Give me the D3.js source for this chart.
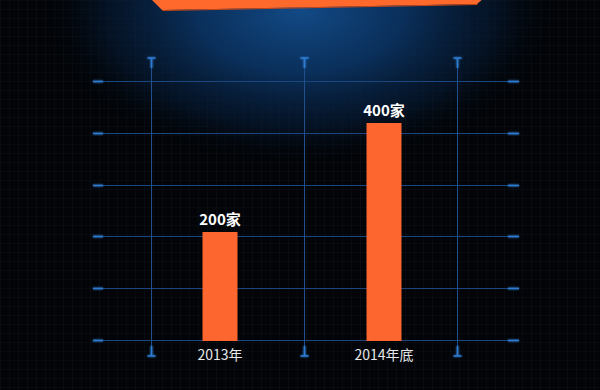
<!DOCTYPE html>
<html>
<head>
<meta charset="utf-8">
<script src="https://cdn.jsdelivr.net/npm/d3@7"></script>
<style>
  html, body { margin: 0; padding: 0; background: #020407; }
  svg { display: block; }
</style>
</head>
<body>
<svg id="chart" width="600" height="390"></svg>
<script>
// Store counts by period
const categories = ["2013年", "2014年底"];
const values = [200, 400];
const valueUnit = "家";
// Decorative grid: horizontal levels and vertical guide columns
const gridLevels = [0, 1, 2, 3, 4, 5];
const guideColumns = [0, 1, 2];

const W = 600, H = 390;
const svg = d3.select("#chart");
const defs = svg.append("defs");

// Background glow under the title banner
const glow = defs.append("radialGradient")
  .attr("id", "glow")
  .attr("gradientUnits", "userSpaceOnUse")
  .attr("cx", 300).attr("cy", 10).attr("r", 260)
  .attr("gradientTransform", "translate(300,10) scale(1,0.6) translate(-300,-10)");
glow.append("stop").attr("offset", "0%").attr("stop-color", "#124a86").attr("stop-opacity", 1);
glow.append("stop").attr("offset", "40%").attr("stop-color", "#0b3464").attr("stop-opacity", 0.9);
glow.append("stop").attr("offset", "75%").attr("stop-color", "#061b36").attr("stop-opacity", 0.6);
glow.append("stop").attr("offset", "100%").attr("stop-color", "#020407").attr("stop-opacity", 0);

// Fine texture grid
const pat = defs.append("pattern")
  .attr("id", "fine")
  .attr("width", 9).attr("height", 9)
  .attr("patternUnits", "userSpaceOnUse");
pat.append("path")
  .attr("d", "M9 0 L0 0 0 9")
  .attr("fill", "none")
  .attr("stroke", "#1a2a40")
  .attr("stroke-opacity", 0.35)
  .attr("stroke-width", 1);

// Soft glow for the bright guide marks (user-space region so flat lines keep rendering)
const soft = defs.append("filter").attr("id", "soft")
  .attr("filterUnits", "userSpaceOnUse")
  .attr("x", 0).attr("y", 0).attr("width", W).attr("height", H);
soft.append("feGaussianBlur").attr("stdDeviation", 1.2).attr("result", "b");
const merge = soft.append("feMerge");
merge.append("feMergeNode").attr("in", "b");
merge.append("feMergeNode").attr("in", "SourceGraphic");

svg.append("rect").attr("width", W).attr("height", H).attr("fill", "#020407");
svg.append("rect").attr("width", W).attr("height", H).attr("fill", "url(#fine)");
svg.append("rect").attr("width", W).attr("height", H).attr("fill", "url(#glow)");

// Title banner edge at the top
svg.append("path")
  .attr("d", "M150,-2 L162,10 L477,4 L484,-2 Z")
  .attr("fill", "#ff6a2c");
svg.append("path")
  .attr("d", "M162,10 L477,4 L478,5 L163,11 Z")
  .attr("fill", "#c2461a");

// Scales
const yGrid = d3.scaleLinear().domain([0, 5]).range([340, 81]);
const xGuide = d3.scaleLinear().domain([0, 2]).range([151, 457]);
const x = d3.scalePoint().domain(categories).range([220, 384]);
const y = d3.scaleLinear().domain([0, 400]).range([341, 123]);
const barW = 35;

const gridColor = "#1a4780";
const tickColor = "#2f7cd2";

// Horizontal grid lines with bright end ticks
const hg = svg.append("g");
hg.selectAll("line.h").data(gridLevels).join("line")
  .attr("class", "h")
  .attr("x1", 93).attr("x2", 519)
  .attr("y1", d => Math.round(yGrid(d)) + 0.5)
  .attr("y2", d => Math.round(yGrid(d)) + 0.5)
  .attr("stroke", gridColor).attr("stroke-width", 1);
const ends = hg.append("g").attr("filter", "url(#soft)");
ends.selectAll("line.tl").data(gridLevels).join("line")
  .attr("class", "tl")
  .attr("x1", 93).attr("x2", 103)
  .attr("y1", d => Math.round(yGrid(d)) + 0.5)
  .attr("y2", d => Math.round(yGrid(d)) + 0.5)
  .attr("stroke", tickColor).attr("stroke-width", 1.6);
ends.selectAll("line.tr").data(gridLevels).join("line")
  .attr("class", "tr")
  .attr("x1", 508).attr("x2", 519)
  .attr("y1", d => Math.round(yGrid(d)) + 0.5)
  .attr("y2", d => Math.round(yGrid(d)) + 0.5)
  .attr("stroke", tickColor).attr("stroke-width", 1.6);

// Vertical guide lines with T-shaped caps
const vTop = 58, vBot = 356;
const vg = svg.append("g");
vg.selectAll("line.v").data(guideColumns).join("line")
  .attr("class", "v")
  .attr("x1", d => Math.round(xGuide(d)) + 0.5)
  .attr("x2", d => Math.round(xGuide(d)) + 0.5)
  .attr("y1", vTop).attr("y2", vBot)
  .attr("stroke", "#1f4f8c").attr("stroke-width", 1);
vg.append("g").attr("filter", "url(#soft)")
  .selectAll("path.cap").data(guideColumns).join("path")
  .attr("class", "cap")
  .attr("d", d => {
    const cx = Math.round(xGuide(d)) + 0.5;
    return `M${cx - 4},${vTop} H${cx + 4} M${cx},${vTop} V${vTop + 10}` +
           `M${cx - 4},${vBot} H${cx + 4} M${cx},${vBot} V${vBot - 10}`;
  })
  .attr("fill", "none")
  .attr("stroke", tickColor).attr("stroke-width", 1.6);

// Bars
svg.append("g").selectAll("rect").data(values).join("rect")
  .attr("x", (d, i) => x(categories[i]) - barW / 2)
  .attr("y", d => y(d))
  .attr("width", barW)
  .attr("height", d => y(0) - y(d))
  .attr("fill", "#fe6630");

// Value labels
svg.append("g").selectAll("text").data(values).join("text")
  .attr("x", (d, i) => x(categories[i]))
  .attr("y", d => y(d) - 7)
  .attr("text-anchor", "middle")
  .attr("font-family", "'Noto Sans CJK SC', 'Noto Sans', sans-serif")
  .attr("font-weight", "bold")
  .attr("font-size", 15)
  .attr("fill", "#ffffff")
  .text(d => d + valueUnit);

// Category labels
svg.append("g").selectAll("text").data(categories).join("text")
  .attr("x", d => x(d))
  .attr("y", 360)
  .attr("text-anchor", "middle")
  .attr("font-family", "'Noto Sans CJK SC', 'Noto Sans', sans-serif")
  .attr("font-size", 14)
  .attr("fill", "#e8e8e8")
  .text(d => d);
</script>
</body>
</html>
